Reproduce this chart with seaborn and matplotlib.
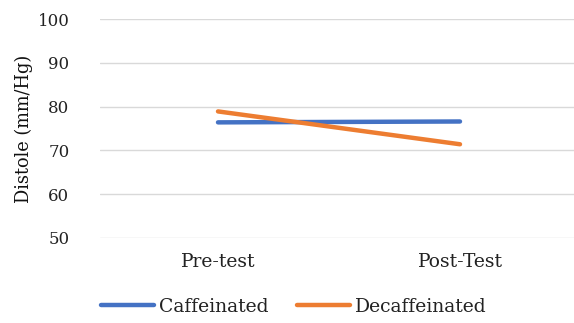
import matplotlib
matplotlib.use("Agg")
import matplotlib.pyplot as plt
import seaborn as sns
import pandas as pd

# Mean diastolic pressure by session
sessions = ["Pre-test", "Post-Test"]
caffeinated = [76.4, 76.6]
decaffeinated = [78.9, 71.4]
groups = ["Caffeinated", "Decaffeinated"]
y_ticks = [50, 60, 70, 80, 90, 100]

df = pd.DataFrame({
    "Session": sessions * 2,
    "pos": [0, 1] * 2,
    "Distole": caffeinated + decaffeinated,
    "Group": [groups[0]] * 2 + [groups[1]] * 2,
})

sns.set_theme(style="white")
plt.rcParams["font.family"] = ["DejaVu Serif"]

W, H = 574, 323
fig = plt.figure(figsize=(W / 100, H / 100), dpi=100)
ax = fig.add_axes([100 / W, (H - 238) / H, 474 / W, 219 / H])

ax.set_ylim(50, 100)
ax.set_yticks(y_ticks)
for yv in y_ticks:
    ax.axhline(yv, color="#D9D9D9", lw=1.0, zorder=0)

sns.lineplot(data=df, x="pos", y="Distole", hue="Group", ax=ax,
             palette=["#4472C4", "#ED7D31"], linewidth=3.2,
             solid_capstyle="round", legend=False, sort=False)

x0 = -118 / 242
ax.set_xlim(x0, x0 + 474 / 242)
ax.set_xticks([0, 1])
ax.set_xticklabels(sessions)
ax.set_xlabel("")
ax.set_ylabel("Distole (mm/Hg)", fontsize=12.8, labelpad=3, color="#111111")
ax.tick_params(axis="y", labelsize=12, colors="#222222", length=0, pad=22)
ax.tick_params(axis="x", labelsize=13.5, colors="#222222", length=0, pad=11)
for s in ax.spines.values():
    s.set_visible(False)

handles = [plt.Line2D([], [], color=c, lw=3.2, solid_capstyle="round")
           for c in ["#4472C4", "#ED7D31"]]
fig.legend(handles, groups, loc="center", bbox_to_anchor=(294 / W, 1 - 307 / H),
           ncol=2, frameon=False, fontsize=13.5, handlelength=2.8,
           handletextpad=0.27, columnspacing=1.55, labelcolor="#222222")

fig.savefig("out.png", dpi=100)
